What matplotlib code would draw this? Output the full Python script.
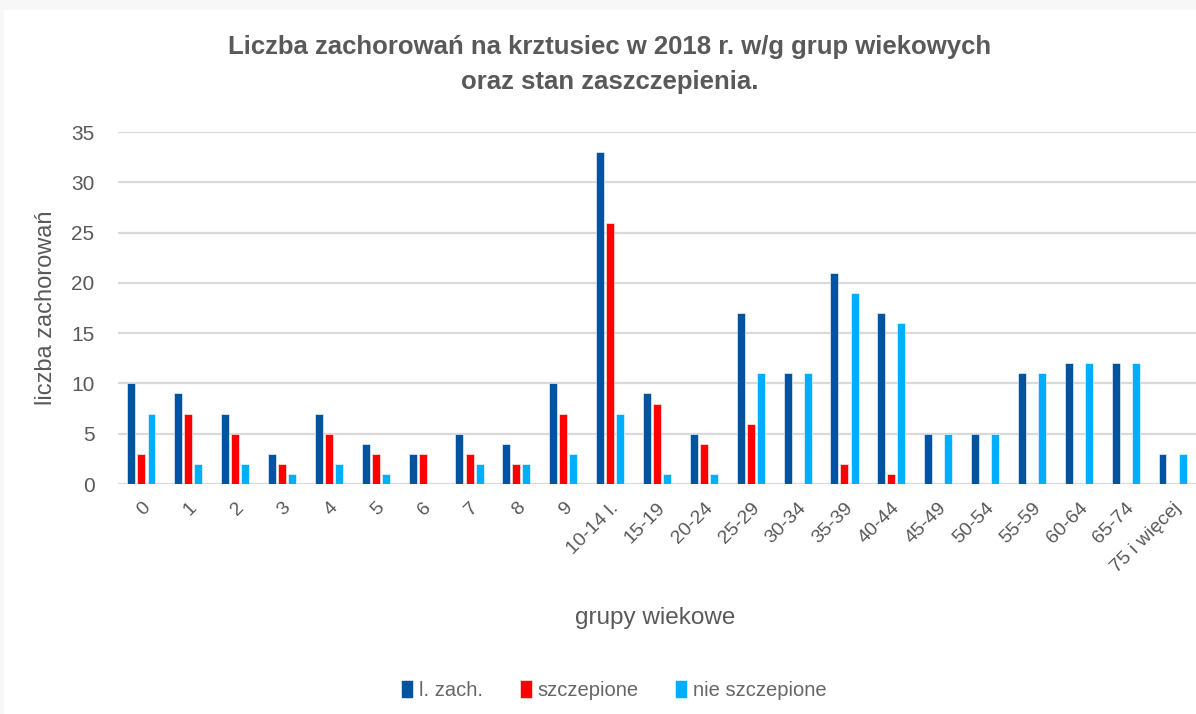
import numpy as np
import matplotlib
matplotlib.use("Agg")
import matplotlib.pyplot as plt
from matplotlib.patches import Rectangle

plt.rcParams['font.family'] = ['Liberation Sans', 'DejaVu Sans']

groups = ['0', '1', '2', '3', '4', '5', '6', '7', '8', '9', '10-14 l.', '15-19',
          '20-24', '25-29', '30-34', '35-39', '40-44', '45-49', '50-54', '55-59',
          '60-64', '65-74', '75 i więcej']
l_zach = [10, 9, 7, 3, 7, 4, 3, 5, 4, 10, 33, 9, 5, 17, 11, 21, 17, 5, 5, 11, 12, 12, 3]
szczepione = [3, 7, 5, 2, 5, 3, 3, 3, 2, 7, 26, 8, 4, 6, 0, 2, 1, 0, 0, 0, 0, 0, 0]
nie_szczepione = [7, 2, 2, 1, 2, 1, 0, 2, 2, 3, 7, 1, 1, 11, 11, 19, 16, 5, 5, 11, 12, 12, 3]

series = [('l. zach.', l_zach, '#00549f'),
          ('szczepione', szczepione, '#ff0000'),
          ('nie szczepione', nie_szczepione, '#00aeff')]

text_color = '#595959'

fig = plt.figure(figsize=(11.96, 7.14), dpi=100)
fig.patch.set_facecolor('#f7f7f7')
fig.add_artist(Rectangle((4 / 1196, 0), 1, 1 - 10 / 714, transform=fig.transFigure,
                         facecolor='white', edgecolor='none', zorder=0))

ax = fig.add_axes([118 / 1196, 230 / 714, 1 - 118 / 1196, 352 / 714])
ax.set_facecolor('none')

x = np.arange(len(groups))
w = 0.17
step = 0.215
for i, (name, vals, col) in enumerate(series):
    ax.bar(x + (i - 1) * step, vals, width=w, color=col, label=name,
           edgecolor='white', linewidth=0.4, zorder=3)

ax.set_xlim(-0.5, len(groups) - 0.5)
ax.set_ylim(0, 35)
ax.set_yticks(range(0, 36, 5))
ax.yaxis.grid(True, color='#d9d9d9', linewidth=1.6, zorder=0)
ax.set_axisbelow(True)
for s in ax.spines.values():
    s.set_visible(False)
ax.tick_params(length=0)
ax.tick_params(axis='y', labelsize=15, labelcolor=text_color, pad=17)

ax.set_xticks(x)
ax.set_xticklabels(groups, rotation=45, ha='right', rotation_mode='anchor',
                   fontsize=14, color=text_color)
for lbl in ax.get_xticklabels():
    lbl.set_y(-0.03)

ax.set_ylabel('liczba zachorowań', fontsize=17, color=text_color, labelpad=10)
fig.text(655 / 1196, 1 - 618 / 714, 'grupy wiekowe', ha='center', va='center',
         fontsize=17.5, color=text_color)

fig.text(610 / 1196, 1 - 47 / 714, 'Liczba zachorowań na krztusiec w 2018 r. w/g grup wiekowych',
         ha='center', va='center', fontsize=18.5, fontweight='bold', color=text_color)
fig.text(610 / 1196, 1 - 82 / 714, 'oraz stan zaszczepienia.',
         ha='center', va='center', fontsize=18.5, fontweight='bold', color=text_color)

leg = fig.legend(loc='center', bbox_to_anchor=(614 / 1196, 1 - 690 / 714), ncol=3,
                 frameon=False, fontsize=14.5, handlelength=0.6, handleheight=1.0,
                 handletextpad=0.3, columnspacing=1.8)
for t in leg.get_texts():
    t.set_color('#666666')

fig.savefig('out.png', dpi=100)
